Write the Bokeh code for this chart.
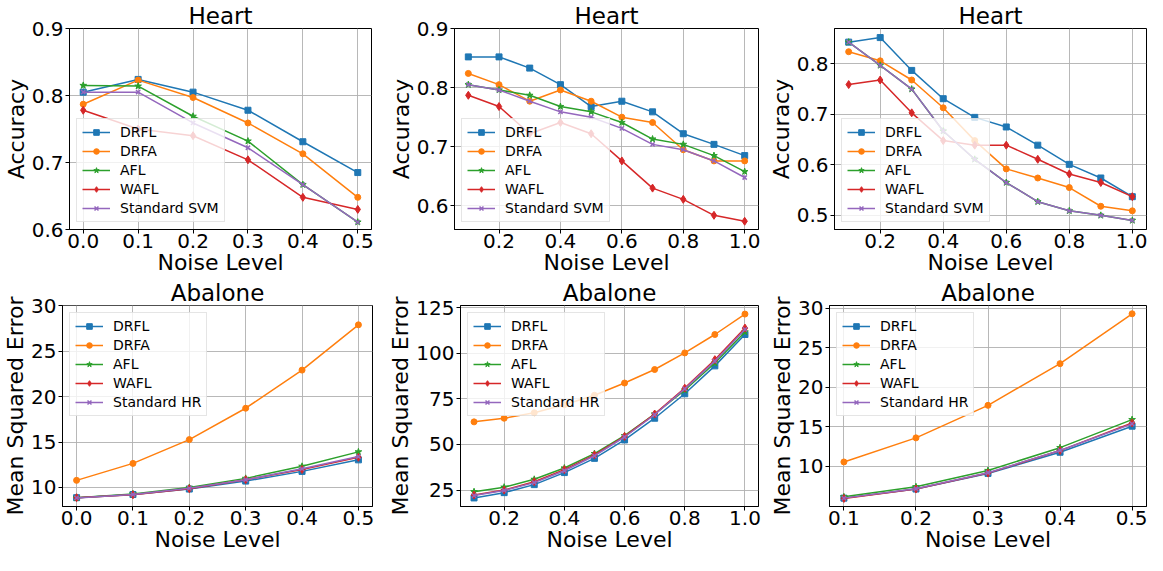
from bokeh.plotting import figure
from bokeh.layouts import column, row
from bokeh.models import Range1d, FixedTicker, PrintfTickFormatter
from bokeh.embed import file_html
from bokeh.resources import INLINE

# ---------------- data ----------------
series_names_svm = ["DRFL", "DRFA", "AFL", "WAFL", "Standard SVM"]
series_names_hr = ["DRFL", "DRFA", "AFL", "WAFL", "Standard HR"]

noise_a = [0.0, 0.1, 0.2, 0.3, 0.4, 0.5]
noise_b = [0.1, 0.2, 0.3, 0.4, 0.5, 0.6, 0.7, 0.8, 0.9, 1.0]
noise_c = [0.1, 0.2, 0.3, 0.4, 0.5]

# Heart, panel 1
h1_drfl = [0.805, 0.824, 0.805, 0.778, 0.731, 0.685]
h1_drfa = [0.787, 0.823, 0.797, 0.759, 0.713, 0.648]
h1_afl = [0.815, 0.814, 0.769, 0.732, 0.667, 0.611]
h1_wafl = [0.778, 0.750, 0.740, 0.704, 0.648, 0.630]
h1_svm = [0.805, 0.805, 0.759, 0.722, 0.667, 0.611]

# Heart, panel 2
h2_drfl = [0.852, 0.852, 0.833, 0.805, 0.768, 0.777, 0.759, 0.722, 0.704, 0.685]
h2_drfa = [0.824, 0.805, 0.777, 0.796, 0.777, 0.750, 0.741, 0.695, 0.676, 0.676]
h2_afl = [0.805, 0.796, 0.787, 0.768, 0.759, 0.741, 0.713, 0.704, 0.685, 0.658]
h2_wafl = [0.787, 0.768, 0.722, 0.741, 0.722, 0.676, 0.630, 0.611, 0.584, 0.574]
h2_svm = [0.805, 0.796, 0.777, 0.759, 0.750, 0.731, 0.704, 0.695, 0.676, 0.648]

# Heart, panel 3
h3_drfl = [0.843, 0.852, 0.787, 0.731, 0.694, 0.675, 0.639, 0.601, 0.574, 0.537]
h3_drfa = [0.824, 0.806, 0.768, 0.713, 0.648, 0.592, 0.574, 0.555, 0.518, 0.509]
h3_afl = [0.843, 0.797, 0.750, 0.667, 0.611, 0.565, 0.527, 0.509, 0.500, 0.490]
h3_wafl = [0.759, 0.768, 0.703, 0.648, 0.639, 0.639, 0.611, 0.582, 0.565, 0.537]
h3_svm = [0.843, 0.797, 0.750, 0.667, 0.611, 0.565, 0.527, 0.509, 0.500, 0.490]

# Abalone, panel 4
a1_drfl = [8.87, 9.22, 9.82, 10.70, 11.77, 13.04]
a1_drfa = [10.78, 12.65, 15.27, 18.73, 22.93, 27.92]
a1_afl = [8.87, 9.29, 10.00, 11.00, 12.33, 13.92]
a1_wafl = [8.87, 9.19, 9.86, 10.85, 11.98, 13.32]
a1_hr = [8.85, 9.22, 9.90, 10.85, 12.05, 13.40]

# Abalone, panel 5
a2_drfl = [20.7, 23.6, 28.0, 34.6, 42.4, 52.5, 64.4, 77.8, 93.1, 110.3]
a2_drfa = [62.4, 64.4, 67.4, 71.8, 77.0, 83.7, 91.1, 100.2, 110.3, 121.5]
a2_afl = [24.1, 26.6, 30.9, 37.1, 45.0, 54.8, 66.7, 79.8, 94.7, 111.7]
a2_wafl = [22.3, 25.0, 29.6, 36.2, 44.3, 54.4, 66.7, 80.9, 96.5, 113.8]
a2_hr = [22.0, 24.8, 29.1, 35.6, 43.8, 54.1, 66.3, 80.5, 95.7, 113.1]

# Abalone, panel 6
a3_drfl = [5.96, 7.11, 9.09, 11.77, 15.07]
a3_drfa = [10.54, 13.59, 17.71, 22.99, 29.30]
a3_afl = [6.12, 7.40, 9.46, 12.35, 15.90]
a3_wafl = [5.92, 7.11, 9.13, 11.98, 15.48]
a3_hr = [5.96, 7.15, 9.17, 12.00, 15.36]

x_ticks_a = [0.0, 0.1, 0.2, 0.3, 0.4, 0.5]
x_ticks_b = [0.2, 0.4, 0.6, 0.8, 1.0]
x_ticks_c = [0.1, 0.2, 0.3, 0.4, 0.5]

# ---------------- styling ----------------
COLORS = ["#1f77b4", "#ff7f0e", "#2ca02c", "#d62728", "#9467bd"]
MARKERS = ["square", "circle", "star", "diamond", "x"]
MSIZES = [6, 6, 7, 8, 6]
FONT = "DejaVu Sans"


def make_panel(title, ylabel, xs, ys_list, names, xr, yr, xt, yt, yfmt,
               width, height, bl, br, legend_loc):
    p = figure(width=width, height=height, output_backend="svg",
               toolbar_location=None, x_range=Range1d(*xr), y_range=Range1d(*yr),
               min_border_left=bl, min_border_right=br,
               min_border_top=0, min_border_bottom=0)
    p.title.text = title
    p.title.text_font = FONT
    p.title.text_font_size = "23px"
    p.title.text_font_style = "normal"
    p.title.text_color = "black"
    p.title.align = "center"
    p.title.standoff = 0
    p.title.offset = 0
    p.outline_line_color = "black"
    p.outline_line_width = 1
    p.outline_line_alpha = 1
    p.background_fill_color = "white"
    p.border_fill_color = "white"

    for ax in (p.xaxis[0], p.yaxis[0]):
        ax.axis_line_color = "black"
        ax.major_tick_line_color = "black"
        ax.major_tick_out = 4
        ax.major_tick_in = 0
        ax.minor_tick_line_color = None
        ax.major_label_text_font = FONT
        ax.major_label_text_font_size = "20px"
        ax.major_label_text_color = "black"
        ax.axis_label_text_font = FONT
        ax.axis_label_text_font_size = "22px"
        ax.axis_label_text_font_style = "normal"
        ax.axis_label_text_color = "black"
    p.xaxis[0].major_label_standoff = 0
    p.xaxis[0].axis_label_standoff = -1
    p.yaxis[0].major_label_standoff = 2
    p.yaxis[0].axis_label_standoff = 0

    p.xaxis[0].axis_label = "Noise Level"
    p.yaxis[0].axis_label = ylabel
    p.xaxis[0].ticker = FixedTicker(ticks=xt)
    p.yaxis[0].ticker = FixedTicker(ticks=yt)
    p.xaxis[0].formatter = PrintfTickFormatter(format="%.1f")
    p.yaxis[0].formatter = PrintfTickFormatter(format=yfmt)

    for g in (p.xgrid[0], p.ygrid[0]):
        g.grid_line_color = "#b0b0b0"
        g.grid_line_width = 1
        g.grid_line_alpha = 0.9

    for ys, name, c, m, s in zip(ys_list, names, COLORS, MARKERS, MSIZES):
        p.line(xs, ys, line_color=c, line_width=1.5, legend_label=name)
        if m == "x":
            p.scatter(xs, ys, marker=m, size=s, line_color=c, line_width=1.5,
                      legend_label=name)
        else:
            p.scatter(xs, ys, marker=m, size=s, fill_color=c, line_color=c,
                      legend_label=name)

    lg = p.legend[0]
    lg.location = legend_loc
    lg.margin = 7
    lg.padding = 5
    lg.spacing = 3
    lg.glyph_width = 28
    lg.glyph_height = 14
    lg.label_height = 14
    lg.label_standoff = 10
    lg.label_text_font = FONT
    lg.label_text_font_size = "14px"
    lg.label_text_color = "black"
    lg.background_fill_color = "white"
    lg.background_fill_alpha = 0.8
    lg.border_line_color = "#cccccc"
    lg.border_line_width = 1
    return p


H = 277

p1 = make_panel("Heart", "Accuracy", noise_a,
                [h1_drfl, h1_drfa, h1_afl, h1_wafl, h1_svm], series_names_svm,
                (-0.025, 0.525), (0.6, 0.9), x_ticks_a, [0.6, 0.7, 0.8, 0.9], "%.1f",
                385, H, 59, 14, "bottom_left")
p2 = make_panel("Heart", "Accuracy", noise_b,
                [h2_drfl, h2_drfa, h2_afl, h2_wafl, h2_svm], series_names_svm,
                (0.055, 1.045), (0.56, 0.9), x_ticks_b, [0.6, 0.7, 0.8, 0.9], "%.1f",
                377, H, 61, 4, "bottom_left")
p3 = make_panel("Heart", "Accuracy", noise_b,
                [h3_drfl, h3_drfa, h3_afl, h3_wafl, h3_svm], series_names_svm,
                (0.055, 1.045), (0.472, 0.870), x_ticks_b, [0.5, 0.6, 0.7, 0.8], "%.1f",
                385, H, 72, 1, "bottom_left")
p4 = make_panel("Abalone", "Mean Squared Error", noise_a,
                [a1_drfl, a1_drfa, a1_afl, a1_wafl, a1_hr], series_names_hr,
                (-0.025, 0.525), (7.9, 30.05), x_ticks_a, [10, 15, 20, 25, 30], "%d",
                385, H, 53, 13, "top_left")
p5 = make_panel("Abalone", "Mean Squared Error", noise_b,
                [a2_drfl, a2_drfa, a2_afl, a2_wafl, a2_hr], series_names_hr,
                (0.055, 1.045), (16.0, 126.2), x_ticks_b, [25, 50, 75, 100, 125], "%d",
                377, H, 68, 4, "top_left")
p6 = make_panel("Abalone", "Mean Squared Error", noise_c,
                [a3_drfl, a3_drfa, a3_afl, a3_wafl, a3_hr], series_names_hr,
                (0.08, 0.52), (4.9, 30.35), x_ticks_c, [10, 15, 20, 25, 30], "%d",
                385, H, 67, 1, "top_left")

layout = column(row(p1, p2, p3, spacing=0), row(p4, p5, p6, spacing=0), spacing=0)

open("out.html", "w").write(file_html(layout, INLINE))
